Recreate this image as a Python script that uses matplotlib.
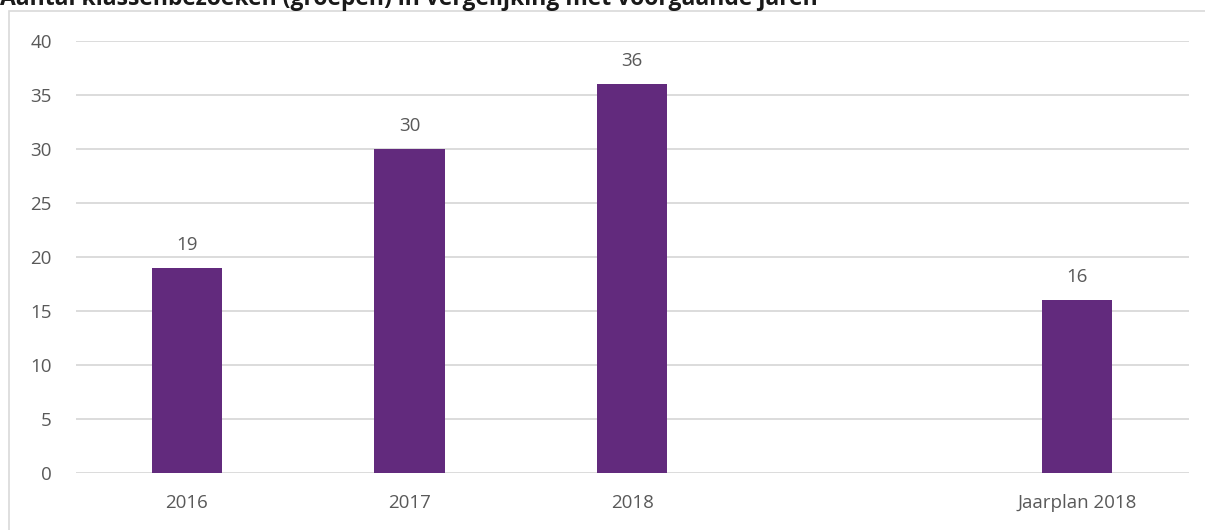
import matplotlib
matplotlib.use("Agg")
import matplotlib.pyplot as plt
from matplotlib.patches import Rectangle

categories = ["2016", "2017", "2018", "", "Jaarplan 2018"]
values = [19, 30, 36, None, 16]
yticks = [0, 5, 10, 15, 20, 25, 30, 35, 40]
title = "Aantal klassenbezoeken (groepen) in vergelijking met voorgaande jaren"

W, H = 1205, 530
BAR = "#622A7D"
GRID = "#D9D9D9"
TXT = "#595959"
FS = 13.5

plt.rcParams["font.family"] = ["Open Sans", "DejaVu Sans"]

fig = plt.figure(figsize=(W / 100, H / 100), dpi=100)

# outer chart frame (continues past right and bottom edges)
fig.patches.append(Rectangle((8.6 / W, -0.05), 1.1, 1 - 10.5 / H + 0.05,
                             transform=fig.transFigure, fill=False,
                             edgecolor=GRID, linewidth=1.2))

fig.text(0.0, 1 - 5 / H, title, fontsize=16.5, fontweight="bold",
         color="#1a1a1a", ha="left", va="baseline")

left, right, top, bottom = 75.6, 1188.7, 40.5, 473
ax = fig.add_axes([left / W, 1 - bottom / H, (right - left) / W, (bottom - top) / H])

xs = [i for i, v in enumerate(values) if v is not None]
hs = [v for v in values if v is not None]
ax.bar(xs, hs, width=0.315, color=BAR, zorder=3)
for x, v in zip(xs, hs):
    ax.annotate(f"{v}", (x, v), xytext=(0, 16.5), textcoords="offset points",
                ha="center", va="center", fontsize=FS, color=TXT)

ax.set_xlim(-0.5, len(categories) - 0.5)
ax.set_ylim(0, 40)
ax.set_yticks(yticks)
ax.set_yticklabels([str(t) for t in yticks], fontsize=FS, color=TXT)
ax.set_xticks(range(len(categories)))
ax.set_xticklabels(categories, fontsize=FS, color=TXT)
ax.tick_params(axis="both", length=0)
ax.tick_params(axis="y", pad=17)
ax.tick_params(axis="x", pad=15)
ax.grid(axis="y", color=GRID, linewidth=1.3, zorder=0)
for s in ax.spines.values():
    s.set_visible(False)

fig.savefig("out.png", dpi=100)
